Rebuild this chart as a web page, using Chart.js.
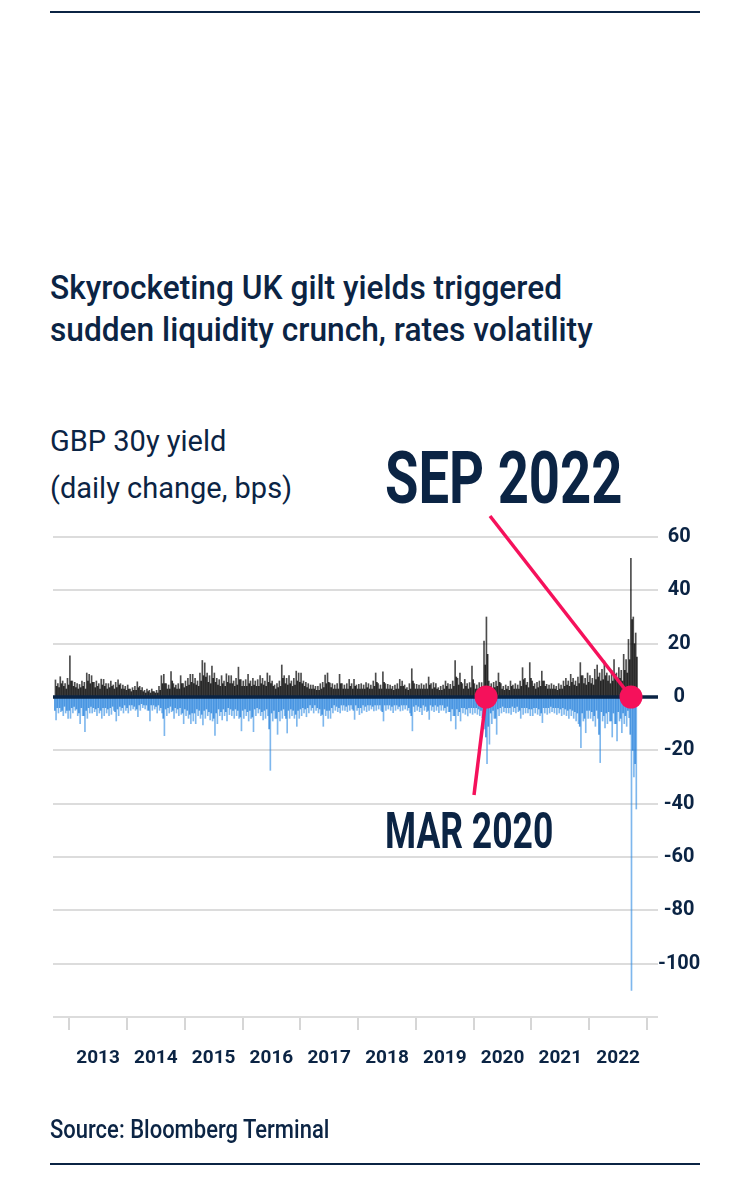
<!DOCTYPE html>
<html>
<head>
<meta charset="utf-8">
<script src="https://cdn.jsdelivr.net/npm/chart.js@4.4.1/dist/chart.umd.min.js"></script>
<style>
  body { margin: 0; background: #fff; width: 750px; height: 1182px; position: relative; overflow: hidden;
         font-family: Roboto, "Liberation Sans", sans-serif; color: #0b2444; }
  #chart { position: absolute; left: 0; top: 0; }
  .rule { position: absolute; left: 50px; width: 650px; height: 2px; background: #0b2444; }
  .txt { position: absolute; left: 50px; white-space: nowrap; transform-origin: left; }
  #title { top: 267px; font-size: 33px; line-height: 42px; font-weight: 500; transform: scaleX(0.96); }
  #sub { top: 418px; font-size: 29px; line-height: 47px; }
  #sep { left: 385px; top: 442px; font-size: 73px; line-height: 72px; font-weight: bold; transform: scaleX(0.745); }
  #mar { left: 385px; top: 806px; font-size: 50px; line-height: 50px; font-weight: bold; transform: scaleX(0.71); }
  #source { top: 1115px; font-size: 25px; line-height: 30px; font-weight: 500; transform: scaleX(0.88); }
</style>
</head>
<body>
<div class="rule" style="top:11px"></div>
<div class="txt" id="title">Skyrocketing UK gilt yields triggered<br>sudden liquidity crunch, rates volatility</div>
<div class="txt" id="sub">GBP 30y yield<br>(daily change, bps)</div>
<canvas id="chart" width="750" height="1182"></canvas>
<div class="txt" id="sep">SEP 2022</div>
<div class="txt" id="mar">MAR 2020</div>
<div class="txt" id="source">Source: Bloomberg Terminal</div>
<div class="rule" style="top:1163px"></div>
<script>
// GBP 30y yield daily moves (bps), per half-month:
// riseYYYY / fallYYYY = biggest up / down day, rise2YYYY / fall2YYYY = a more ordinary day
// 2012 starts in October (half-month 18), 2022 ends in October
const years = [2012, 2013, 2014, 2015, 2016, 2017, 2018, 2019, 2020, 2021, 2022];
const firstHalfMonth2012 = 18;

const rise2012 = [6.4, 5, 7.6, 6, 5, 7];
const fall2012 = [-8.6, -6, -5.5, -7, -6, -8];
const rise2013 = [15.4, 6, 5.5, 5, 4.7, 6, 5.5, 9, 8.5, 8, 5.5, 6, 5, 6.7, 6.6, 5, 5, 6, 4.5, 5.5, 6.4, 5, 4.5, 4];
const fall2013 = [-8, -6, -5, -7, -10, -7, -13, -8, -6, -6, -5.5, -7, -6, -8, -7, -6, -7, -6.5, -5, -9, -7, -5, -6, -5];
const rise2014 = [4.5, 3, 3.5, 4, 5.7, 4, 3.5, 2.5, 3, 2.5, 3, 2, 2.5, 4, 8, 8.5, 5, 4.5, 9.5, 5, 4.5, 5, 8, 5];
const fall2014 = [-6, -5, -4.5, -5, -7.4, -5, -4, -4.5, -5, -9, -5, -4.5, -6, -5, -6, -14.5, -7, -6, -5.5, -8, -6, -7, -6.5, -10];
const rise2015 = [6, 7, 8.5, 8.5, 7, 6, 9, 13.7, 12.8, 9, 8, 11.6, 9, 7, 6.5, 8, 6, 8.7, 8, 8, 6, 7, 11.2, 6.5];
const fall2015 = [-7, -8, -10, -9, -10, -7, -8, -10.5, -8, -7, -8.6, -9, -14.4, -10, -7, -8.6, -7, -9, -6.6, -7, -8, -7, -8, -12.7];
const rise2016 = [6, 6.5, 8.5, 6, 7, 6, 6.5, 8, 7, 6, 9, 8, 6, 4.5, 5, 6, 12, 8, 7, 8, 6, 7, 9.7, 9];
const fall2016 = [-8, -7, -9, -8, -13, -7, -6, -7, -8.6, -8, -7, -27.5, -9, -8, -14, -9, -8, -7, -13.5, -8, -7, -8, -11, -8];
const rise2017 = [9, 6, 5.5, 5, 4.5, 4.5, 4, 4, 5, 5.5, 8.2, 9, 5.2, 5, 4.5, 5, 8.5, 5, 4.5, 5, 6.6, 5, 6.6, 4.5];
const fall2017 = [-7, -6, -7.4, -6, -5, -6, -5, -6, -7, -11, -7, -8, -8, -6, -5, -5.5, -6, -5, -5, -5.5, -5, -4.5, -8.4, -5];
const rise2018 = [4.75, 5, 4.5, 5.4, 5, 4.5, 6, 9, 5, 4.5, 9.4, 5, 4.75, 4.5, 4, 4.5, 5, 6.6, 6, 4.5, 3.5, 5, 10.6, 5];
const fall2018 = [-6.6, -6, -5, -5.5, -5, -4.5, -5.25, -5, -4.5, -5, -9, -5, -4.5, -5, -5.9, -5, -4.5, -5.25, -5, -4.5, -5, -6, -12.7, -5.5];
const rise2019 = [4.75, 4.5, 5, 4.5, 5, 7.5, 5, 5.4, 5, 3.5, 4, 4.5, 6, 5, 4.75, 6, 13.7, 7, 9, 5, 6.6, 5, 5.4, 11.6];
const fall2019 = [-5, -5.5, -6.6, -5, -5.5, -8.4, -5, -5.5, -5, -5.9, -5, -5, -6, -5.5, -9, -7, -12, -7, -9, -6, -6.5, -7.1, -6, -6.5];
const rise2020 = [5, 4.5, 5.4, 5.4, 21, 30, 6, 5, 5.5, 6, 9, 5, 4, 4.5, 4, 6, 4.5, 5, 4.5, 6, 11, 7, 5.5, 12.9];
const fall2020 = [-6, -6.5, -7, -7.75, -12, -25, -17.7, -10, -8, -14, -7, -6, -5.5, -6, -6, -6.5, -5.5, -6, -5.5, -8, -6.5, -6, -6, -7];
const rise2021 = [6, 5, 5.5, 6, 9.7, 6, 4.75, 4.5, 5, 4.5, 4, 5, 4.5, 6, 7, 6, 8.5, 7, 6, 7.5, 12.9, 8, 7, 9];
const fall2021 = [-7, -6, -6.5, -7, -9.6, -6, -6.5, -6, -5.5, -6, -6.5, -6, -7, -6.5, -7, -8, -7, -8, -9, -10, -19, -9, -13.4, -8];
const rise2022 = [8, 7, 10.4, 12, 9, 10.4, 13.5, 9, 8, 10, 14, 9, 11, 10, 16, 14, 21.6, 52, 30, 24];
const fall2022 = [-8, -9, -11, -8, -24.6, -9, -11.6, -10, -9, -15, -10, -16.5, -9, -13.4, -10, -11, -7.75, -110, -30, -42];

const rise22012 = [4, 3.5, 5, 4, 3, 4.5];
const fall22012 = [-5, -4, -4, -5, -3.5, -5];
const rise22013 = [6, 4, 3.5, 3, 3.5, 4, 3, 6, 5, 5.5, 3.5, 4, 3, 4.5, 4, 3, 3.5, 4, 3, 3.5, 4.5, 3, 3, 2.5];
const fall22013 = [-5, -4, -3.5, -4.5, -6, -4, -7, -5, -4, -3.5, -4, -4.5, -4, -5, -4, -4, -4.5, -4, -3.5, -5.5, -4.5, -3.5, -4, -3];
const rise22014 = [3, 2, 2.5, 2.5, 3.5, 2.5, 2, 1.5, 2, 1.5, 2, 1.5, 1.5, 2.5, 5, 5, 3, 3, 6, 3.5, 3, 3, 5, 3.5];
const fall22014 = [-4, -3, -3, -3.5, -4.5, -3, -2.5, -3, -3, -5, -3, -3, -3.5, -3, -4, -8, -4.5, -4, -3.5, -5, -4, -4.5, -4, -6];
const rise22015 = [4, 4.5, 5.5, 5, 4.5, 4, 6, 8, 7.5, 5.5, 5, 7, 5.5, 4.5, 4, 5, 4, 5.5, 5, 5, 4, 4.5, 6.5, 4];
const fall22015 = [-4.5, -5, -6.5, -6, -6, -4.5, -5, -6.5, -5, -4.5, -5.5, -6, -8, -6, -4.5, -5.5, -4.5, -5.5, -4, -4.5, -5, -4.5, -5, -7.5];
const rise22016 = [4, 4, 5, 4, 4.5, 4, 4, 5, 4.5, 4, 5.5, 5, 4, 3, 3.5, 4, 7, 5, 4.5, 5, 4, 4.5, 6, 5.5];
const fall22016 = [-5, -4.5, -5.5, -5, -7.5, -4.5, -4, -4.5, -5.5, -5, -4.5, -12, -6, -5, -8, -5.5, -5, -4.5, -8, -5, -4.5, -5, -6.5, -5];
const rise22017 = [5, 4, 3.5, 3, 3, 3, 2.5, 2.5, 3, 3.5, 5, 5.5, 3.5, 3, 3, 3, 5, 3, 3, 3, 4, 3, 4, 3];
const fall22017 = [-4.5, -4, -4.5, -4, -3, -4, -3, -4, -4.5, -6.5, -4.5, -5, -5, -4, -3, -3.5, -4, -3, -3, -3.5, -3, -3, -5, -3];
const rise22018 = [3, 3, 3, 3.5, 3, 3, 4, 5.5, 3, 3, 5.5, 3, 3, 3, 2.5, 3, 3, 4, 4, 3, 2.5, 3, 6, 3];
const fall22018 = [-4, -4, -3, -3.5, -3, -3, -3.5, -3, -3, -3, -5.5, -3, -3, -3, -3.5, -3, -3, -3.5, -3, -3, -3, -4, -7, -3.5];
const rise22019 = [3, 3, 3, 3, 3, 4.5, 3, 3.5, 3, 2.5, 2.5, 3, 4, 3, 3, 4, 7.5, 4.5, 5.5, 3, 4, 3, 3.5, 6.5];
const fall22019 = [-3, -3.5, -4, -3, -3.5, -5, -3, -3.5, -3, -3.5, -3, -3, -4, -3.5, -5.5, -4.5, -7, -4.5, -5.5, -4, -4, -4.5, -4, -4];
const rise22020 = [3, 3, 3.5, 3.5, 12, 16, 4, 3, 3.5, 4, 5.5, 3, 2.5, 3, 2.5, 4, 3, 3, 3, 4, 6.5, 4.5, 3.5, 7];
const fall22020 = [-4, -4, -4.5, -5, -8, -15, -11, -6, -5, -8, -4.5, -4, -3.5, -4, -4, -4, -3.5, -4, -3.5, -5, -4, -4, -4, -4.5];
const rise22021 = [4, 3, 3.5, 4, 6, 4, 3, 3, 3, 3, 2.5, 3, 3, 4, 4.5, 4, 5.5, 4.5, 4, 5, 8, 5, 4.5, 5.5];
const fall22021 = [-4.5, -4, -4, -4.5, -6, -4, -4, -4, -3.5, -4, -4, -4, -4.5, -4, -4.5, -5, -4.5, -5, -5.5, -6, -11, -6, -8, -5];
const rise22022 = [5, 4.5, 6.5, 7.5, 6, 6.5, 8, 6, 5, 6, 8.5, 6, 7, 6, 10, 9, 14, 29, 20, 15];
const fall22022 = [-5, -5.5, -7, -5, -14, -5.5, -7, -6, -5.5, -9, -6, -10, -5.5, -8, -6, -7, -5, -14, -20, -25];

const riseByYear = [rise2012, rise2013, rise2014, rise2015, rise2016, rise2017, rise2018, rise2019, rise2020, rise2021, rise2022];
const fallByYear = [fall2012, fall2013, fall2014, fall2015, fall2016, fall2017, fall2018, fall2019, fall2020, fall2021, fall2022];
const rise2ByYear = [rise22012, rise22013, rise22014, rise22015, rise22016, rise22017, rise22018, rise22019, rise22020, rise22021, rise22022];
const fall2ByYear = [fall22012, fall22013, fall22014, fall22015, fall22016, fall22017, fall22018, fall22019, fall22020, fall22021, fall22022];

const yearLabels = ['2013', '2014', '2015', '2016', '2017', '2018', '2019', '2020', '2021', '2022'];
const yTicks = [60, 40, 20, 0, -20, -40, -60, -80, -100];

// callouts: date of the event (decimal year) and where the pointer line starts
const calloutDates = [2020.215, 2022.723];
const calloutFrom = [[474, 795], [490, 516]];

const navy = '#0b2444';
const pink = '#f5115b';
const tickFont = { family: 'Roboto', weight: 'bold', size: 19 };

// spot = where inside the half-month the day is drawn (0..1)
function toPoints(list, spot) {
  const pts = [];
  list.forEach((vals, i) => {
    const offset = years[i] === 2012 ? firstHalfMonth2012 : 0;
    vals.forEach((v, j) => pts.push({ x: years[i] + (offset + j + spot) / 24, y: v }));
  });
  return pts;
}

const xTickValues = [];
yearLabels.forEach(l => { xTickValues.push(Number(l)); xTickValues.push(Number(l) + 0.5); });
xTickValues.push(Number(yearLabels[yearLabels.length - 1]) + 1);

const calloutPlugin = {
  id: 'callouts',
  afterDatasetDraw(chart, args) {
    if (args.index !== 3) return;
    const { ctx, chartArea, scales: { x, y } } = chart;
    const y0 = y.getPixelForValue(0);
    ctx.save();
    ctx.strokeStyle = navy;
    ctx.lineWidth = 3.5;
    ctx.beginPath();
    ctx.moveTo(chartArea.left, y0);
    ctx.lineTo(chartArea.right, y0);
    ctx.stroke();
    ctx.strokeStyle = pink;
    ctx.lineWidth = 3.5;
    calloutDates.forEach((d, i) => {
      ctx.beginPath();
      ctx.moveTo(calloutFrom[i][0], calloutFrom[i][1]);
      ctx.lineTo(x.getPixelForValue(d), y0);
      ctx.stroke();
    });
    ctx.restore();
  }
};

new Chart(document.getElementById('chart'), {
  type: 'bar',
  data: {
    datasets: [
      { label: 'rise', data: toPoints(riseByYear, 0.3), backgroundColor: 'rgba(0,0,0,0.7)', order: 5 },
      { label: 'rise 2', data: toPoints(rise2ByYear, 0.8), backgroundColor: 'rgba(0,0,0,0.8)', order: 4 },
      { label: 'fall', data: toPoints(fallByYear, 0.55), backgroundColor: 'rgba(40,135,225,0.6)', order: 3 },
      { label: 'fall 2', data: toPoints(fall2ByYear, 0.05), backgroundColor: 'rgba(15,115,215,0.7)', order: 2 },
      {
        type: 'line', label: 'events', showLine: false, order: 1,
        data: calloutDates.map(d => ({ x: d, y: 0 })),
        pointRadius: 11.5, pointBackgroundColor: pink, pointBorderWidth: 0
      }
    ]
  },
  options: {
    responsive: false,
    animation: false,
    layout: { padding: { top: 537, left: 53, right: 42, bottom: 105 } },
    datasets: { bar: { grouped: false, barThickness: 1 } },
    plugins: { legend: { display: false }, tooltip: { enabled: false } },
    scales: {
      x: {
        type: 'linear',
        min: 2012.72,
        max: 2023.19,
        offset: false,
        afterBuildTicks: scale => { scale.ticks = xTickValues.map(v => ({ value: v })); },
        afterFit: scale => { scale.height = 60; },
        border: { display: false },
        grid: {
          offset: false,
          drawOnChartArea: false,
          tickLength: 13,
          lineWidth: 2,
          color: ctx => (ctx.tick && Number.isInteger(ctx.tick.value)) ? '#d6d6d6' : 'rgba(0,0,0,0)'
        },
        ticks: {
          autoSkip: false,
          maxRotation: 0,
          padding: 17,
          color: navy,
          font: tickFont,
          callback: v => Number.isInteger(v) ? '' : String(Math.floor(v))
        }
      },
      y: {
        position: 'right',
        min: -120,
        max: 60,
        afterBuildTicks: scale => { scale.ticks = yTicks.concat([-120]).map(v => ({ value: v })); },
        afterFit: scale => { scale.width = 50; },
        border: { display: false },
        grid: {
          drawTicks: false,
          lineWidth: 2,
          color: ctx => (ctx.tick && ctx.tick.value === 0) ? 'rgba(0,0,0,0)' : '#dcdcdc'
        },
        ticks: {
          padding: 0,
          crossAlign: 'center',
          color: navy,
          font: { family: 'Roboto', weight: 'bold', size: 20 },
          callback: v => yTicks.includes(v) ? String(v) : ''
        }
      }
    }
  },
  plugins: [calloutPlugin]
});
</script>
</body>
</html>
